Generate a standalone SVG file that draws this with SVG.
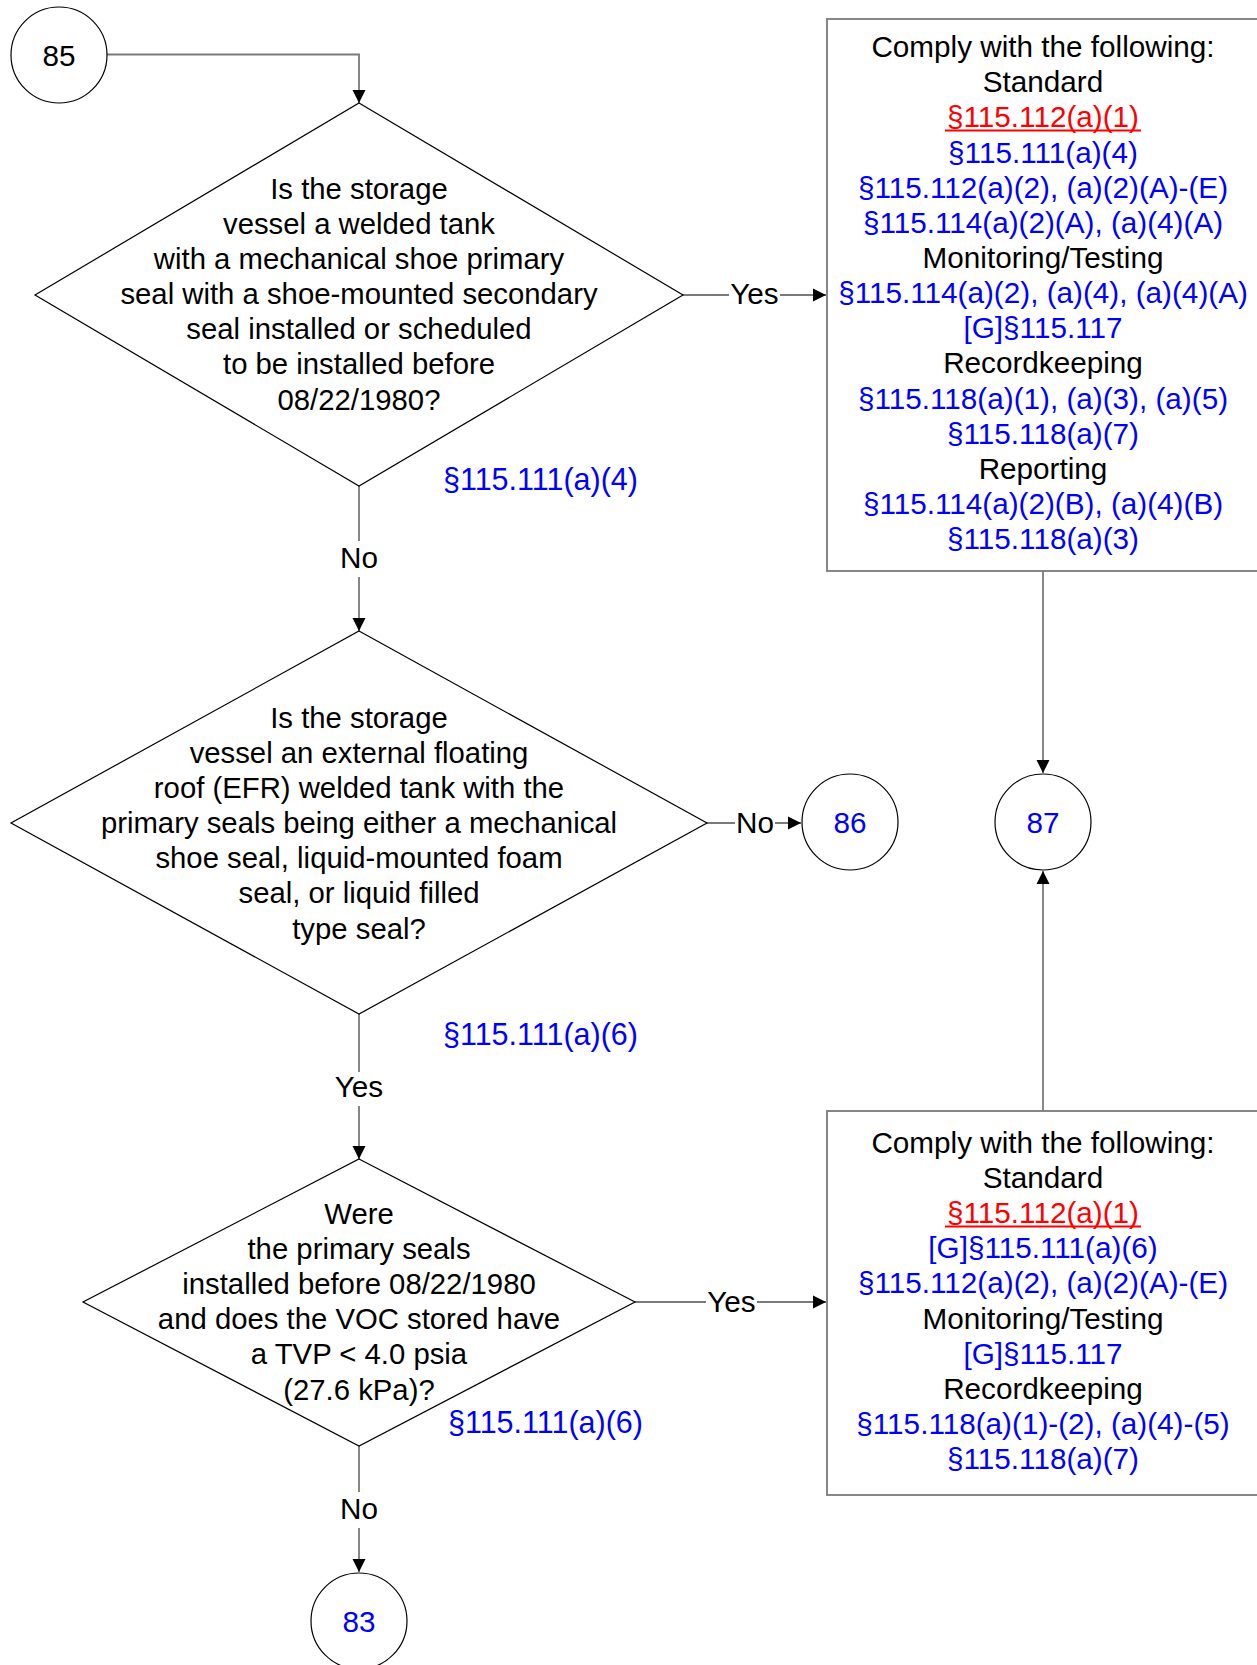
<svg xmlns="http://www.w3.org/2000/svg" width="1257" height="1665" viewBox="0 0 1257 1665">
<style>
text{font-family:"Liberation Sans",Arial,sans-serif;font-size:29.7px;text-anchor:middle;fill:#000}
.q{font-size:29.3px}
.b{fill:#0000FF}
.r{fill:#FF0000}
.ul{stroke:#FF0000;stroke-width:2}
.shape{fill:#fff;stroke:#000;stroke-width:1.2}
.box{fill:#fff;stroke:#7a7a7a;stroke-width:1.8}
.conn{fill:none;stroke:#7a7a7a;stroke-width:1.8}
.lbl{fill:#fff;stroke:none}
.ref{text-anchor:start;font-size:30.5px}
</style>
<defs>
<marker id="ah" markerUnits="userSpaceOnUse" markerWidth="14" markerHeight="14" refX="13" refY="7" orient="auto">
<path d="M0,0.5 L13,7 L0,13.5 z" fill="#000"/>
</marker>
</defs>
<g id="connectors">
<path class="conn" d="M107,54.5 H359 V103" marker-end="url(#ah)"/>
<path class="conn" d="M683,295 H826" marker-end="url(#ah)"/>
<path class="conn" d="M359,486 V631" marker-end="url(#ah)"/>
<path class="conn" d="M707,823 H801" marker-end="url(#ah)"/>
<path class="conn" d="M359,1014 V1159" marker-end="url(#ah)"/>
<path class="conn" d="M635,1302 H826" marker-end="url(#ah)"/>
<path class="conn" d="M359,1446 V1572" marker-end="url(#ah)"/>
<path class="conn" d="M1043,571 V773" marker-end="url(#ah)"/>
<path class="conn" d="M1043,1111 V871" marker-end="url(#ah)"/>
<rect class="lbl" x="729" y="281" width="51" height="28"/>
<text x="754.5" y="304">Yes</text>
<rect class="lbl" x="338" y="541" width="42" height="36"/>
<text x="359" y="568">No</text>
<rect class="lbl" x="735" y="809" width="40" height="28"/>
<text x="755" y="833">No</text>
<rect class="lbl" x="333" y="1072" width="52" height="34"/>
<text x="359" y="1097">Yes</text>
<rect class="lbl" x="706" y="1288" width="51" height="28"/>
<text x="731.5" y="1312">Yes</text>
<rect class="lbl" x="338" y="1492" width="42" height="36"/>
<text x="359" y="1519">No</text>
<text class="b ref" x="443" y="490">§115.111(a)(4)</text>
<text class="b ref" x="443" y="1045">§115.111(a)(6)</text>
<text class="b ref" x="448" y="1433">§115.111(a)(6)</text>
</g>
<g id="n85">
<circle class="shape" cx="59" cy="55" r="48"/>
<text x="59" y="65.5">85</text>
</g>
<g id="d1">
<polygon class="shape" points="359,103 683,295 359,486 35,295"/>
<text class="q" x="359" y="198.6">Is the storage</text>
<text class="q" x="359" y="233.7">vessel a welded tank</text>
<text class="q" x="359" y="268.9">with a mechanical shoe primary</text>
<text class="q" x="359" y="304">seal with a shoe-mounted secondary</text>
<text class="q" x="359" y="339.2">seal installed or scheduled</text>
<text class="q" x="359" y="374.3">to be installed before</text>
<text class="q" x="359" y="409.5">08/22/1980?</text>
</g>
<g id="box1">
<rect class="box" x="827" y="19" width="432" height="552"/>
<text x="1043" y="57">Comply with the following:</text>
<text x="1043" y="92.2">Standard</text>
<text class="r" x="1043" y="127.3">§115.112(a)(1)</text>
<line class="ul" x1="945" y1="130.5" x2="1141" y2="130.5"/>
<text class="b" x="1043" y="162.5">§115.111(a)(4)</text>
<text class="b" x="1043" y="197.6">§115.112(a)(2), (a)(2)(A)-(E)</text>
<text class="b" x="1043" y="232.8">§115.114(a)(2)(A), (a)(4)(A)</text>
<text x="1043" y="267.9">Monitoring/Testing</text>
<text class="b" x="1043" y="303.1">§115.114(a)(2), (a)(4), (a)(4)(A)</text>
<text class="b" x="1043" y="338.2">[G]§115.117</text>
<text x="1043" y="373.4">Recordkeeping</text>
<text class="b" x="1043" y="408.5">§115.118(a)(1), (a)(3), (a)(5)</text>
<text class="b" x="1043" y="443.7">§115.118(a)(7)</text>
<text x="1043" y="478.8">Reporting</text>
<text class="b" x="1043" y="514">§115.114(a)(2)(B), (a)(4)(B)</text>
<text class="b" x="1043" y="549.1">§115.118(a)(3)</text>
</g>
<g id="d2">
<polygon class="shape" points="359,631 707,823 359,1014 11,823"/>
<text class="q" x="359" y="727.6">Is the storage</text>
<text class="q" x="359" y="762.7">vessel an external floating</text>
<text class="q" x="359" y="797.9">roof (EFR) welded tank with the</text>
<text class="q" x="359" y="833">primary seals being either a mechanical</text>
<text class="q" x="359" y="868.2">shoe seal, liquid-mounted foam</text>
<text class="q" x="359" y="903.3">seal, or liquid filled</text>
<text class="q" x="359" y="938.5">type seal?</text>
</g>
<g id="n86">
<circle class="shape" cx="850" cy="822" r="48"/>
<text class="b" x="850" y="832.5">86</text>
</g>
<g id="n87">
<circle class="shape" cx="1043" cy="822" r="48"/>
<text class="b" x="1043" y="832.5">87</text>
</g>
<g id="d3">
<polygon class="shape" points="359,1159 635,1302 359,1446 83,1302"/>
<text class="q" x="359" y="1224">Were</text>
<text class="q" x="359" y="1259.1">the primary seals</text>
<text class="q" x="359" y="1294.2">installed before 08/22/1980</text>
<text class="q" x="359" y="1329.3">and does the VOC stored have</text>
<text class="q" x="359" y="1364.4">a TVP &lt; 4.0 psia</text>
<text class="q" x="359" y="1399.5">(27.6 kPa)?</text>
</g>
<g id="box2">
<rect class="box" x="827" y="1111" width="432" height="384"/>
<text x="1043" y="1153">Comply with the following:</text>
<text x="1043" y="1188.1">Standard</text>
<text class="r" x="1043" y="1223.2">§115.112(a)(1)</text>
<line class="ul" x1="945" y1="1226.4" x2="1141" y2="1226.4"/>
<text class="b" x="1043" y="1258.3">[G]§115.111(a)(6)</text>
<text class="b" x="1043" y="1293.4">§115.112(a)(2), (a)(2)(A)-(E)</text>
<text x="1043" y="1328.5">Monitoring/Testing</text>
<text class="b" x="1043" y="1363.6">[G]§115.117</text>
<text x="1043" y="1398.7">Recordkeeping</text>
<text class="b" x="1043" y="1433.8">§115.118(a)(1)-(2), (a)(4)-(5)</text>
<text class="b" x="1043" y="1468.9">§115.118(a)(7)</text>
</g>
<g id="n83">
<circle class="shape" cx="359" cy="1621" r="48"/>
<text class="b" x="359" y="1631.5">83</text>
</g>
</svg>
